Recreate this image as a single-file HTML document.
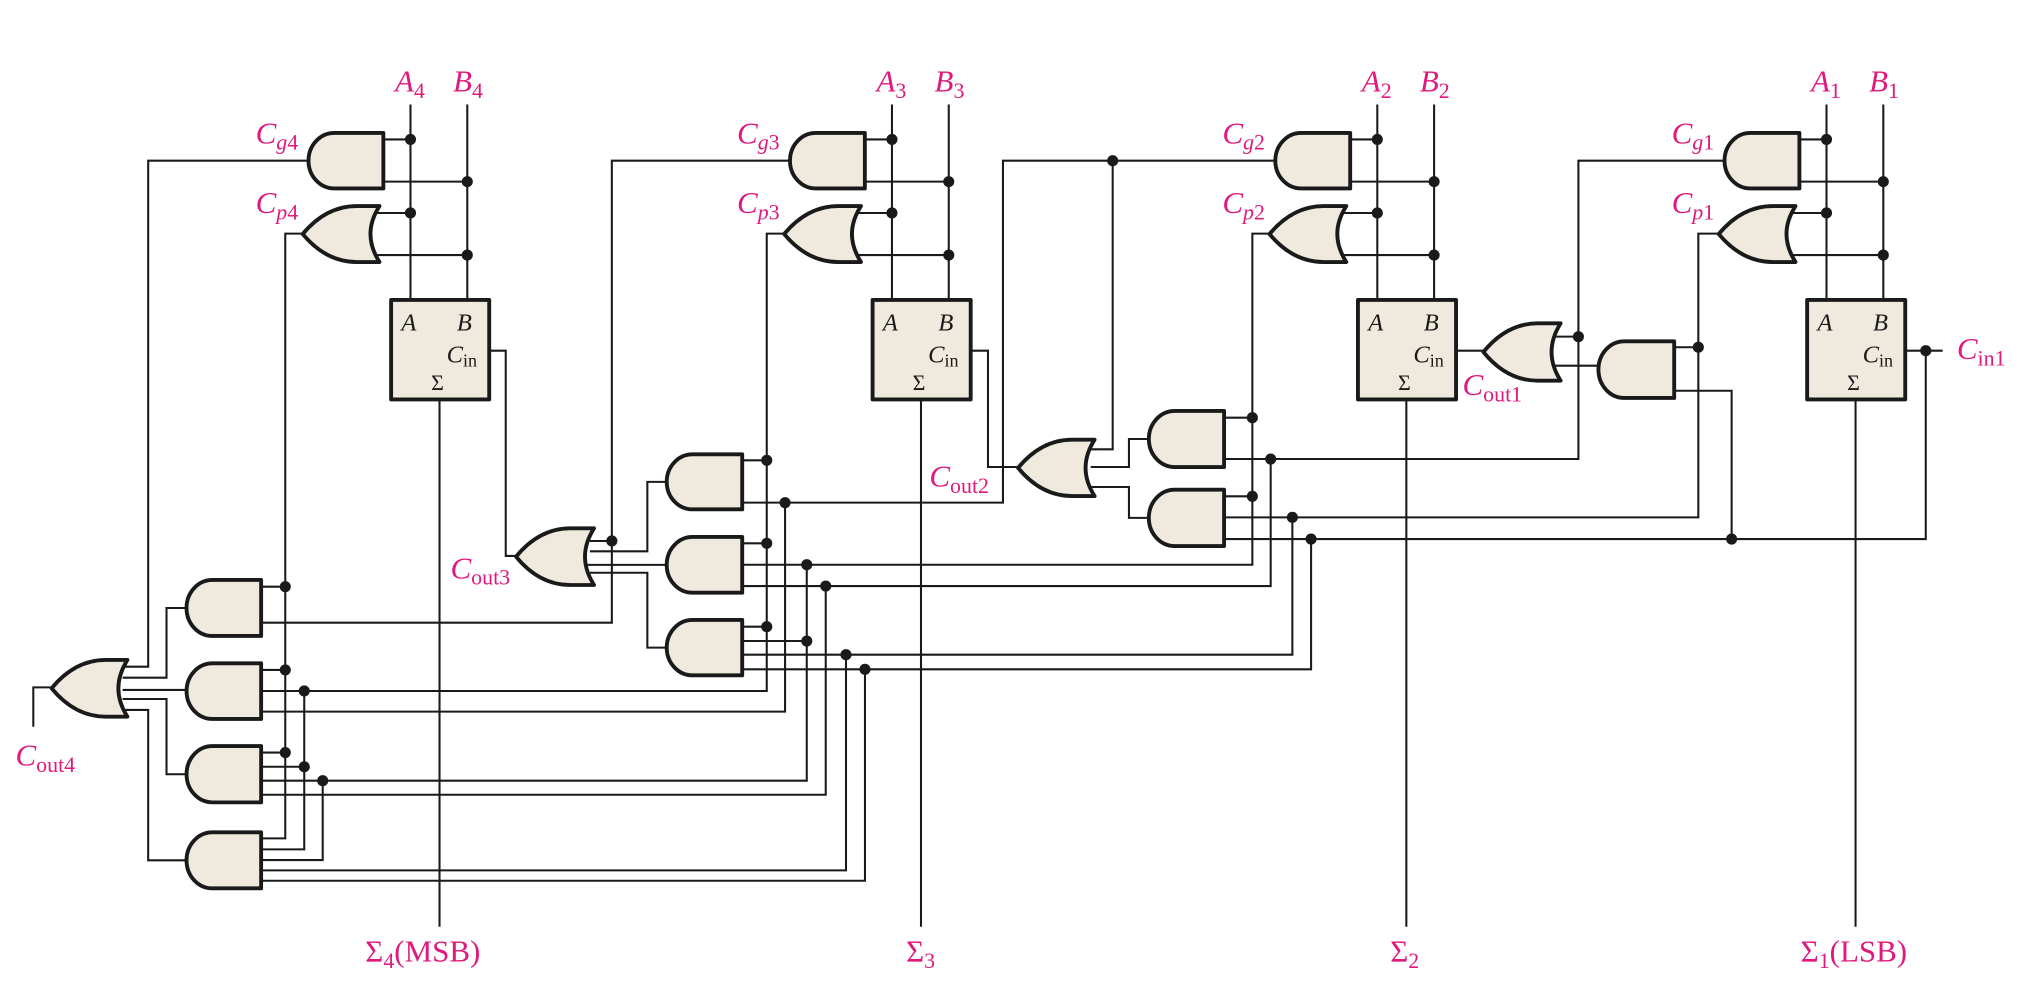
<!DOCTYPE html>
<html><head><meta charset="utf-8"><style>
html,body{margin:0;padding:0;background:#fff}
svg{display:block}
.w{fill:none;stroke:#1a1a1a;stroke-width:1.6}
.g{fill:#efeadd;stroke:#1a1a1a;stroke-width:3;stroke-linejoin:round}
.l{fill:#e0197d;font-family:"Liberation Serif",serif;font-size:24px}
.k{fill:#1a1a1a;font-family:"Liberation Serif",serif;font-size:19px}
.s{font-size:17px}
</style></head><body>
<svg width="2024" height="1000" viewBox="0 0 1568 774.7" preserveAspectRatio="none" xmlns="http://www.w3.org/2000/svg">
<g class="w">
<path d="M318 81V232.4M362 81V232.4M297 108H318M297 140.7H362M290 165H318M290 197.6H362M340.5 309V718"/>
<path d="M691 81V232.4M735 81V232.4M670 108H691M670 140.7H735M663 165H691M663 197.6H735M713.5 309V718"/>
<path d="M1067 81V232.4M1111 81V232.4M1046 108H1067M1046 140.7H1111M1039 165H1067M1039 197.6H1111M1089.5 309V718"/>
<path d="M1415 81V232.4M1459 81V232.4M1394 108H1415M1394 140.7H1459M1387 165H1415M1387 197.6H1459M1437.5 309V718"/>
<path d="M239 124.5H114.8V516.5H95"/>
<path d="M234.5 181H221V649.5H202.3"/>
<path d="M612 124.5H474V482.4H202.3"/>
<path d="M607.5 181H594V535.3H202.3"/>
<path d="M988 124.5H777V389.4H575"/>
<path d="M862 124.5V348.1H845"/>
<path d="M983.5 181H970.2V437.5H575"/>
<path d="M1336 124.5H1222.8V355.6H948.3"/>
<path d="M1331.5 181H1315.7V400.8H948.3"/>
<path d="M379 271.7H391.8V430.7H399.8"/>
<path d="M752 271.7H765.4V361.8H788.7"/>
<path d="M1128 271.7H1149.2"/>
<path d="M1476 271.7H1505"/>
<path d="M1491.9 271.7V417.6H948.3"/>
<path d="M1238.3 283.3H1205"/>
<path d="M1297 269H1315.7"/>
<path d="M1297 302.7H1341.5V417.6"/>
<path d="M1205 260.8H1222.8"/>
<path d="M845 361.8H874.6V340.1H890"/>
<path d="M845 377.3H874.6V401.2H890"/>
<path d="M948.3 323.6H970.2M948.3 384.5H970.2"/>
<path d="M984.4 355.6V454H575"/>
<path d="M1001.2 400.8V507.2H575"/>
<path d="M1015.7 417.6V518.5H575"/>
<path d="M575 356.6H594M575 420.9H594M575 485.5H594M575 496.6H625"/>
<path d="M516.5 373.3H501.5V427.1H457"/>
<path d="M516.5 437.6H455"/>
<path d="M516.5 501.7H501.5V443.7H457"/>
<path d="M457 419.1H474"/>
<path d="M608.2 389.4V551.3H202.3"/>
<path d="M625 437.5V604.8H202.3"/>
<path d="M639.7 454V615.7H202.3"/>
<path d="M655.4 507.2V674.3H202.3"/>
<path d="M670.1 518.5V682.3H202.3"/>
<path d="M95 525H129V471H144.5"/>
<path d="M95 534.5H144.5"/>
<path d="M95 541.5H129V599.8H144.5"/>
<path d="M95 550H114.8V666.5H144.5"/>
<path d="M202.3 454.5H221M202.3 519H221M202.3 583H221M202.3 594H235.7"/>
<path d="M235.7 535.3V658H202.3"/>
<path d="M250 604.8V666.3H202.3"/>
<path d="M40 532.5H25.8V563"/>
</g>
<g class="g">
<path d="M297 103H259A20 21.5 0 0 0 259 146H297Z"/>
<path d="M670 103H632A20 21.5 0 0 0 632 146H670Z"/>
<path d="M1046 103H1008A20 21.5 0 0 0 1008 146H1046Z"/>
<path d="M1394 103H1356A20 21.5 0 0 0 1356 146H1394Z"/>
<path d="M234.5 181.3Q252.5 159.6 276.5 159.6H294Q280 181.3 294 203H276.5Q252.5 203 234.5 181.3Z"/>
<path d="M607.5 181.3Q625.5 159.6 649.5 159.6H667Q653 181.3 667 203H649.5Q625.5 203 607.5 181.3Z"/>
<path d="M983.5 181.3Q1001.5 159.6 1025.5 159.6H1043Q1029 181.3 1043 203H1025.5Q1001.5 203 983.5 181.3Z"/>
<path d="M1331.5 181.3Q1349.5 159.6 1373.5 159.6H1391Q1377 181.3 1391 203H1373.5Q1349.5 203 1331.5 181.3Z"/>
<rect x="303" y="232.4" width="76" height="77"/>
<rect x="676" y="232.4" width="76" height="77"/>
<rect x="1052" y="232.4" width="76" height="77"/>
<rect x="1400" y="232.4" width="76" height="77"/>
<path d="M202.3 449.3H164.5A20 21.7 0 0 0 164.5 492.7H202.3Z"/>
<path d="M202.3 513.9H164.5A20 21.55 0 0 0 164.5 557H202.3Z"/>
<path d="M202.3 578H164.5A20 21.8 0 0 0 164.5 621.6H202.3Z"/>
<path d="M202.3 644.8H164.5A20 21.7 0 0 0 164.5 688.2H202.3Z"/>
<path d="M575 352H536.5A20 21.3 0 0 0 536.5 394.6H575Z"/>
<path d="M575 416H536.5A20 21.6 0 0 0 536.5 459.2H575Z"/>
<path d="M575 480.3H536.5A20 21.45 0 0 0 536.5 523.2H575Z"/>
<path d="M948.3 318.4H910A20 21.7 0 0 0 910 361.8H948.3Z"/>
<path d="M948.3 379.4H910A20 21.8 0 0 0 910 423H948.3Z"/>
<path d="M1297 264.4H1258.3A20 21.95 0 0 0 1258.3 308.3H1297Z"/>
<path d="M40 533.25Q58 511.3 82 511.3H98.7Q84.7 533.25 98.7 555.2H82Q58 555.2 40 533.25Z"/>
<path d="M399.8 431.25Q417.8 409.3 441.8 409.3H460.2Q446.2 431.25 460.2 453.2H441.8Q417.8 453.2 399.8 431.25Z"/>
<path d="M788.7 362.45Q806.7 340.6 830.7 340.6H848Q834 362.45 848 384.3H830.7Q806.7 384.3 788.7 362.45Z"/>
<path d="M1149.2 272.7Q1167.2 250.5 1191.2 250.5H1209Q1195 272.7 1209 294.9H1191.2Q1167.2 294.9 1149.2 272.7Z"/>
</g>
<g fill="#1a1a1a">
<circle cx="318" cy="108" r="4.3"/><circle cx="362" cy="140.7" r="4.3"/><circle cx="318" cy="165" r="4.3"/><circle cx="362" cy="197.6" r="4.3"/>
<circle cx="691" cy="108" r="4.3"/><circle cx="735" cy="140.7" r="4.3"/><circle cx="691" cy="165" r="4.3"/><circle cx="735" cy="197.6" r="4.3"/>
<circle cx="1067" cy="108" r="4.3"/><circle cx="1111" cy="140.7" r="4.3"/><circle cx="1067" cy="165" r="4.3"/><circle cx="1111" cy="197.6" r="4.3"/>
<circle cx="1415" cy="108" r="4.3"/><circle cx="1459" cy="140.7" r="4.3"/><circle cx="1415" cy="165" r="4.3"/><circle cx="1459" cy="197.6" r="4.3"/>
<circle cx="970.2" cy="323.6" r="4.3"/><circle cx="984.4" cy="355.6" r="4.3"/><circle cx="970.2" cy="384.5" r="4.3"/><circle cx="1001.2" cy="400.8" r="4.3"/><circle cx="1015.7" cy="417.6" r="4.3"/>
<circle cx="862" cy="124.5" r="4.3"/><circle cx="1222.8" cy="260.8" r="4.3"/><circle cx="1315.7" cy="269" r="4.3"/><circle cx="1341.5" cy="417.6" r="4.3"/><circle cx="1491.9" cy="271.7" r="4.3"/>
<circle cx="594" cy="356.6" r="4.3"/><circle cx="608.2" cy="389.4" r="4.3"/><circle cx="594" cy="420.9" r="4.3"/><circle cx="625" cy="437.5" r="4.3"/><circle cx="639.7" cy="454" r="4.3"/>
<circle cx="594" cy="485.5" r="4.3"/><circle cx="625" cy="496.6" r="4.3"/><circle cx="655.4" cy="507.2" r="4.3"/><circle cx="670.1" cy="518.5" r="4.3"/><circle cx="474" cy="419.1" r="4.3"/>
<circle cx="221" cy="454.5" r="4.3"/><circle cx="221" cy="519" r="4.3"/><circle cx="235.7" cy="535.3" r="4.3"/><circle cx="221" cy="583" r="4.3"/><circle cx="235.7" cy="594" r="4.3"/><circle cx="250" cy="604.8" r="4.3"/>
</g>
<g class="k">
<text x="311" y="256" font-style="italic">A</text><text x="354" y="256" font-style="italic">B</text>
<text x="346" y="281"><tspan font-style="italic">C</tspan><tspan font-size="14" dy="3">in</tspan></text><text x="334" y="302" font-size="17">Σ</text>
<text x="684" y="256" font-style="italic">A</text><text x="727" y="256" font-style="italic">B</text>
<text x="719" y="281"><tspan font-style="italic">C</tspan><tspan font-size="14" dy="3">in</tspan></text><text x="707" y="302" font-size="17">Σ</text>
<text x="1060" y="256" font-style="italic">A</text><text x="1103" y="256" font-style="italic">B</text>
<text x="1095" y="281"><tspan font-style="italic">C</tspan><tspan font-size="14" dy="3">in</tspan></text><text x="1083" y="302" font-size="17">Σ</text>
<text x="1408" y="256" font-style="italic">A</text><text x="1451" y="256" font-style="italic">B</text>
<text x="1443" y="281"><tspan font-style="italic">C</tspan><tspan font-size="14" dy="3">in</tspan></text><text x="1431" y="302" font-size="17">Σ</text>
</g>
<g class="l">
<text x="306" y="71"><tspan font-style="italic">A</tspan><tspan class="s" dy="5">4</tspan></text>
<text x="351" y="71"><tspan font-style="italic">B</tspan><tspan class="s" dy="5">4</tspan></text>
<text x="679" y="71"><tspan font-style="italic">A</tspan><tspan class="s" dy="5">3</tspan></text>
<text x="724" y="71"><tspan font-style="italic">B</tspan><tspan class="s" dy="5">3</tspan></text>
<text x="1055" y="71"><tspan font-style="italic">A</tspan><tspan class="s" dy="5">2</tspan></text>
<text x="1100" y="71"><tspan font-style="italic">B</tspan><tspan class="s" dy="5">2</tspan></text>
<text x="1403" y="71"><tspan font-style="italic">A</tspan><tspan class="s" dy="5">1</tspan></text>
<text x="1448" y="71"><tspan font-style="italic">B</tspan><tspan class="s" dy="5">1</tspan></text>
<text x="198" y="111"><tspan font-style="italic">C</tspan><tspan class="s" dy="5" font-style="italic">g</tspan><tspan class="s">4</tspan></text>
<text x="198" y="165"><tspan font-style="italic">C</tspan><tspan class="s" dy="5" font-style="italic">p</tspan><tspan class="s">4</tspan></text>
<text x="571" y="111"><tspan font-style="italic">C</tspan><tspan class="s" dy="5" font-style="italic">g</tspan><tspan class="s">3</tspan></text>
<text x="571" y="165"><tspan font-style="italic">C</tspan><tspan class="s" dy="5" font-style="italic">p</tspan><tspan class="s">3</tspan></text>
<text x="947" y="111"><tspan font-style="italic">C</tspan><tspan class="s" dy="5" font-style="italic">g</tspan><tspan class="s">2</tspan></text>
<text x="947" y="165"><tspan font-style="italic">C</tspan><tspan class="s" dy="5" font-style="italic">p</tspan><tspan class="s">2</tspan></text>
<text x="1295" y="111"><tspan font-style="italic">C</tspan><tspan class="s" dy="5" font-style="italic">g</tspan><tspan class="s">1</tspan></text>
<text x="1295" y="165"><tspan font-style="italic">C</tspan><tspan class="s" dy="5" font-style="italic">p</tspan><tspan class="s">1</tspan></text>
<text x="349" y="448"><tspan font-style="italic">C</tspan><tspan class="s" dy="5">out3</tspan></text>
<text x="720" y="377"><tspan font-style="italic">C</tspan><tspan class="s" dy="5">out2</tspan></text>
<text x="1133" y="306"><tspan font-style="italic">C</tspan><tspan class="s" dy="5">out1</tspan></text>
<text x="12" y="593"><tspan font-style="italic">C</tspan><tspan class="s" dy="5">out4</tspan></text>
<text x="1516" y="278"><tspan font-style="italic">C</tspan><tspan class="s" dy="5">in1</tspan></text>
<text x="283" y="745">Σ<tspan class="s" dy="5">4</tspan><tspan dy="-5">(MSB)</tspan></text>
<text x="702" y="745">Σ<tspan class="s" dy="5">3</tspan></text>
<text x="1077" y="745">Σ<tspan class="s" dy="5">2</tspan></text>
<text x="1395" y="745">Σ<tspan class="s" dy="5">1</tspan><tspan dy="-5">(LSB)</tspan></text>
</g>
</svg>
</body></html>
